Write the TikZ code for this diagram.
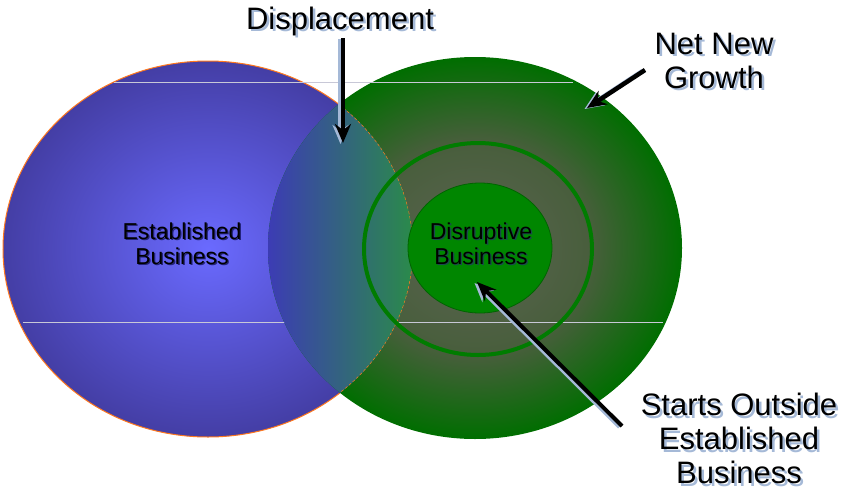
\documentclass[tikz,border=0pt]{standalone}
\usepackage{fontspec}
\setmainfont{Liberation Sans}
\usetikzlibrary{positioning,arrows.meta}

\definecolor{blueIn}{RGB}{106,106,255}
\definecolor{blueOut}{RGB}{68,62,165}
\definecolor{edgeOrange}{RGB}{255,120,30}
\definecolor{greenIn}{RGB}{92,100,82}
\definecolor{greenMid}{RGB}{72,94,60}
\definecolor{greenOut}{RGB}{0,110,0}
\definecolor{overlapLeft}{RGB}{60,60,180}
\definecolor{overlapRight}{RGB}{42,140,72}
\definecolor{ringGreen}{RGB}{0,124,0}
\definecolor{discGreen}{RGB}{0,134,0}
\definecolor{discEdge}{RGB}{0,100,0}
\definecolor{labelShadow}{RGB}{165,185,215}
\definecolor{blueShadow}{RGB}{35,35,120}
\definecolor{tealShadow}{RGB}{25,75,75}
\definecolor{scanLine}{RGB}{200,200,215}

\pgfdeclareradialshading{greenglow}{\pgfpoint{0bp}{0bp}}{%
  color(0bp)=(greenIn); color(14bp)=(greenMid); color(25bp)=(greenOut); color(50bp)=(greenOut)}

\newlength\shoff
\newcommand{\shtext}[2][labelShadow]{\rlap{\hspace{\shoff}\raisebox{-\shoff}{\textcolor{#1}{#2}}}#2}

\tikzset{
  callout/.style={font=\fontsize{31}{34}\selectfont\setlength\shoff{2.5pt}, align=center, inner sep=0pt},
  inside/.style={font=\fontsize{23}{25}\selectfont\setlength\shoff{1.3pt}, align=center, inner sep=0pt},
  pointer/.style={line width=4.5pt, -{Stealth[length=19pt,width=16pt]}},
  pointershadow/.style={pointer, draw=labelShadow, transform canvas={xshift=-2.5pt,yshift=-1pt}},
}

\begin{document}
\begin{tikzpicture}[x=1pt,y=-1pt]
    \useasboundingbox (0,0) rectangle (845,498);

    \shadedraw[inner color=blueIn, outer color=blueOut, draw=edgeOrange, line width=1pt]
        (208,249) ellipse [x radius=205pt, y radius=188pt];
    \shade[shading=greenglow] (475,248) ellipse [x radius=207pt, y radius=191pt];

    \draw[scanLine, line width=0.7pt] (114,82) -- (573,82);
    \draw[scanLine, line width=0.7pt] (23,322) -- (663,322);

    \begin{scope}
        \clip (208,249) ellipse [x radius=205pt, y radius=188pt];
        \clip (475,248) ellipse [x radius=207pt, y radius=191pt];
        \shade[left color=overlapLeft, right color=overlapRight] (268,50) rectangle (416,450);
        \draw[edgeOrange, line width=1pt, dash pattern=on 3pt off 2pt]
            (208,249) ellipse [x radius=205pt, y radius=188pt];
    \end{scope}

    \draw[ringGreen, line width=4pt] (478,249) ellipse [x radius=114pt, y radius=106pt];
    \filldraw[fill=discGreen, draw=discEdge, line width=0.8pt]
        (480,248) ellipse [x radius=72pt, y radius=65pt];

    \node[inside] (established) at (182,244)
        {\shtext[blueShadow]{Established}\\\shtext[blueShadow]{Business}};
    \node[inside] (disruptive) at (481,244)
        {\shtext[tealShadow]{Disruptive}\\\shtext[tealShadow]{Business}};

    \node[callout, anchor=base] (displacement) at (340,29) {\shtext{Displacement}};
    \node[callout] (growth) at (714,62) {\shtext{Net New}\\\shtext{Growth}};
    \node[callout] (outside) at (739,440)
        {\shtext{Starts Outside}\\\shtext{Established}\\\shtext{Business}};

    \coordinate (dispTail) at (343,38);
    \coordinate [below=105pt of dispTail] (dispTip);
    \coordinate (growthTail) at (645,70);
    \coordinate (growthTip) at (587,108);
    \coordinate (outsideTail) at (622,426);
    \coordinate (outsideTip) at (477,282);

    \draw[pointershadow] (dispTail) -- (dispTip);
    \draw[pointer] (dispTail) -- (dispTip);
    \draw[pointershadow] (growthTail) -- (growthTip);
    \draw[pointer] (growthTail) -- (growthTip);
    \draw[pointershadow, line width=4pt] (outsideTail) -- (outsideTip);
    \draw[pointer, line width=4pt] (outsideTail) -- (outsideTip);
\end{tikzpicture}
\end{document}
